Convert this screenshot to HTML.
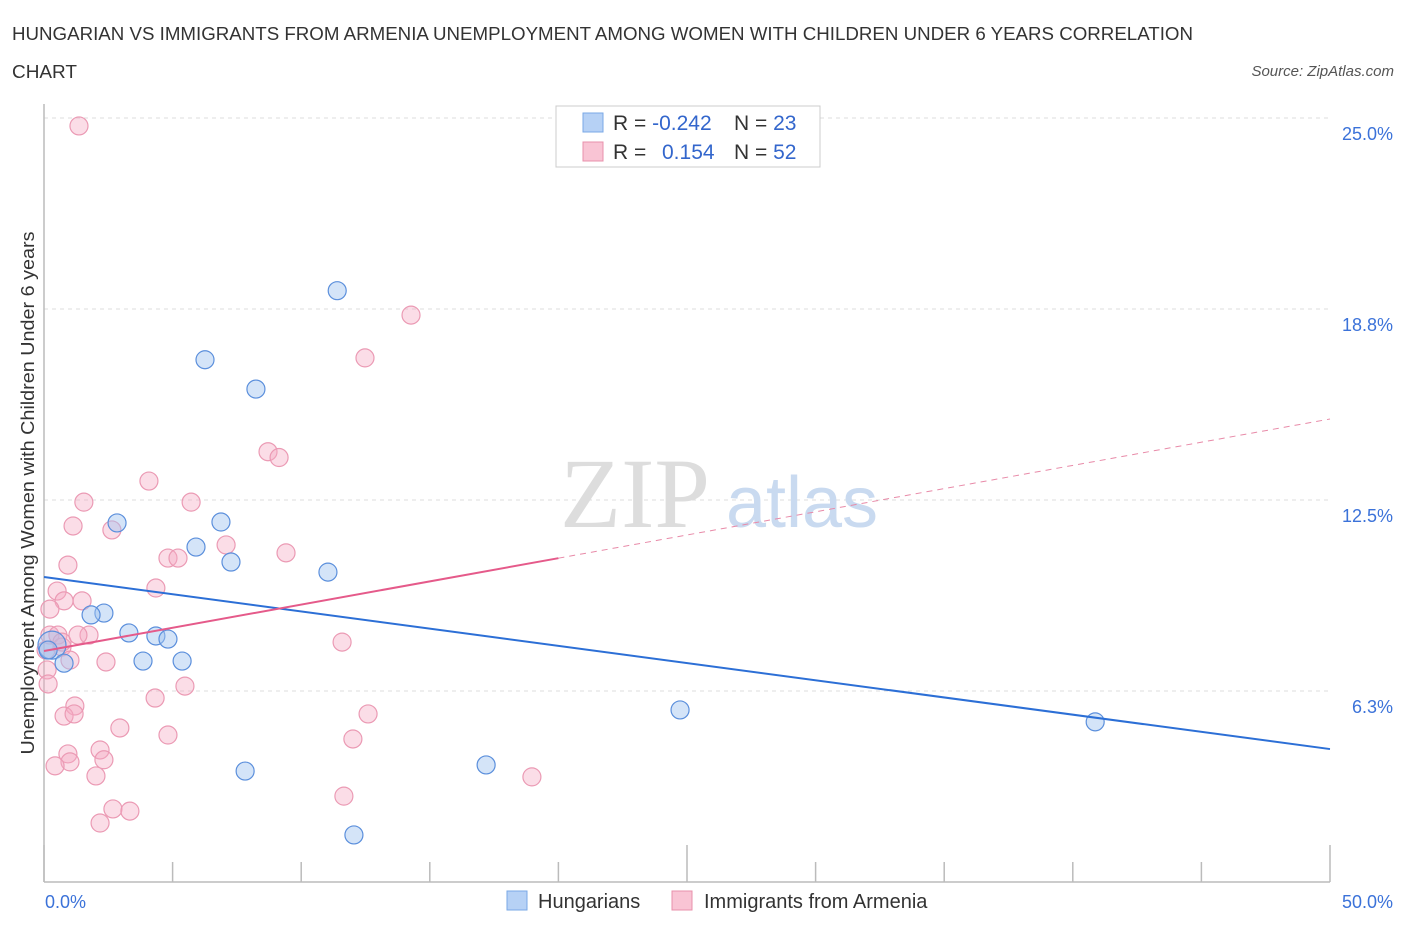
<!DOCTYPE html>
<html><head><meta charset="utf-8"><style>
body{margin:0;background:#fff;font-family:"Liberation Sans",sans-serif}
svg text{font-family:"Liberation Sans",sans-serif}
svg text.serif{font-family:"Liberation Serif",serif}
</style></head><body>
<svg id="chart" width="1406" height="930" xmlns="http://www.w3.org/2000/svg">
<text x="12" y="40" font-size="18" fill="#333" textLength="1181" lengthAdjust="spacingAndGlyphs">HUNGARIAN VS IMMIGRANTS FROM ARMENIA UNEMPLOYMENT AMONG WOMEN WITH CHILDREN UNDER 6 YEARS CORRELATION</text>
<text x="12" y="78" font-size="18" fill="#333" textLength="65" lengthAdjust="spacingAndGlyphs">CHART</text>
<text x="1394" y="76" font-size="15" fill="#555" font-style="italic" text-anchor="end">Source: ZipAtlas.com</text>
<text x="34" y="493" font-size="18" fill="#333" text-anchor="middle" textLength="523" lengthAdjust="spacingAndGlyphs" transform="rotate(-90 34 493)">Unemployment Among Women with Children Under 6 years</text>
<g id="grid"></g>
<text x="635" y="527" class="serif" font-size="100" fill="#ddd" text-anchor="middle">ZIP</text>
<text x="802" y="527" font-size="72" fill="#c9daf0" text-anchor="middle">atlas</text>
<g id="marks"></g>
<g>
<rect x="556" y="106" width="264" height="61" fill="#fff" stroke="#ccc"/>
<rect x="583" y="113" width="20" height="19" fill="#b6d1f5" stroke="#7aa8e6"/>
<rect x="583" y="142" width="20" height="19" fill="#f9c4d4" stroke="#e890ab"/>
<text x="613" y="130" font-size="21" fill="#333">R = <tspan fill="#3366cc">-0.242</tspan><tspan x="734">N = </tspan><tspan fill="#3366cc">23</tspan></text>
<text x="613" y="159" font-size="21" fill="#333">R = <tspan x="662" fill="#3366cc">0.154</tspan><tspan x="734">N = </tspan><tspan fill="#3366cc">52</tspan></text>
</g>
<g>
<rect x="507" y="891" width="20" height="19" fill="#b6d1f5" stroke="#7aa8e6"/>
<text x="538" y="908" font-size="20" fill="#333">Hungarians</text>
<rect x="672" y="891" width="20" height="19" fill="#f9c4d4" stroke="#e890ab"/>
<text x="704" y="908" font-size="20" fill="#333">Immigrants from Armenia</text>
</g>
</svg>
<script>
const yTicks=[6.25,12.5,18.75,25];
const yTickLabels=["6.3%","12.5%","18.8%","25.0%"];
const xTickLabels=["0.0%","50.0%"];
const hungX=[11.4,6.26,8.24,2.84,6.88,5.91,7.27,11.04,2.33,1.83,3.3,4.35,4.82,3.85,5.37,0.31,0.78,24.73,40.87,7.82,17.19,12.05,0.16];
const hungY=[19.35,17.09,16.13,11.75,11.78,10.96,10.47,10.14,8.8,8.74,8.15,8.05,7.95,7.23,7.23,7.75,7.16,5.63,5.24,3.63,3.83,1.54,7.59];
const armX=[1.36,14.27,12.48,8.71,9.14,4.08,1.55,5.72,1.13,2.64,4.82,5.21,7.08,9.41,0.93,4.35,0.51,1.48,0.78,0.23,1.75,11.59,0.23,0.54,0.7,0.08,2.41,1.01,0.12,5.48,0.16,4.32,1.2,0.78,1.17,12.6,2.95,4.82,12.01,2.18,0.93,1.01,2.33,0.43,2.02,18.97,2.68,3.34,2.18,11.66,0.7,1.32];
const armY=[24.74,18.55,17.15,14.08,13.89,13.12,12.43,12.43,11.65,11.52,10.6,10.6,11.03,10.77,10.37,9.62,9.52,9.2,9.2,8.93,8.08,7.85,8.08,8.08,7.69,7.59,7.2,7.26,6.94,6.41,6.48,6.02,5.76,5.43,5.5,5.5,5.04,4.81,4.68,4.32,4.19,3.93,4.0,3.8,3.47,3.44,2.39,2.32,1.93,2.81,7.85,8.08];
const hungTrend=[9.98,-0.1126];
const armTrend=[7.56,0.1518];
const armSolidEnd=20;
const X=v=>44+v*25.72, Y=v=>882-v*30.56;
const NS="http://www.w3.org/2000/svg";
const grid=document.getElementById('grid'), marks=document.getElementById('marks');
function mk(tag,attrs,parent){const e=document.createElementNS(NS,tag);for(const k in attrs)e.setAttribute(k,attrs[k]);parent.appendChild(e);return e;}
yTicks.forEach((t,i)=>{
 const l=mk('line',{x1:44,x2:1330,y1:Y(t),y2:Y(t),stroke:'#ddd','stroke-dasharray':'4,4'},grid);
 
 
 const tx=mk('text',{x:1393,y:Y(t)+22,'font-size':18,fill:'#3b72d9','text-anchor':'end'},grid);
 tx.textContent=yTickLabels[i];
 
 
});
const ax=mk('line',{x1:44,x2:44,y1:104,y2:882,stroke:'#bbb','stroke-width':1.5},grid);


const bx=mk('line',{x1:44,x2:1330,y1:882,y2:882,stroke:'#bbb','stroke-width':1.5},grid);


for(let i=0;i<=10;i++){
 const t=mk('line',{x1:X(i*5),x2:X(i*5),y1:882,y2:i%5==0?845:862,stroke:'#bbb','stroke-width':1.5},grid);
 
 
}
[[0,'start',45],[50,'end',1393]].forEach((d,i)=>{
 const tx=mk('text',{x:d[2],y:908,'font-size':18,fill:'#3b72d9','text-anchor':d[1]},grid);
 tx.textContent=xTickLabels[i];
 
 
});
armX.forEach((x,i)=>{
 const c=mk('circle',{cx:X(x),cy:Y(armY[i]),r:9,fill:'rgba(246,170,195,0.4)',stroke:'#eb9ab4','stroke-width':1.2},marks);
 
 
});
hungX.forEach((x,i)=>{
 const c=mk('circle',{cx:X(x),cy:Y(hungY[i]),r:i==15?14:9,fill:'rgba(160,195,240,0.45)',stroke:'#5b8fdc','stroke-width':1.2},marks);
 
 
});
const f=(t,x)=>t[0]+t[1]*x;
const hl=mk('line',{x1:X(0),y1:Y(f(hungTrend,0)),x2:X(50),y2:Y(f(hungTrend,50)),stroke:'#2c6fd6','stroke-width':2},marks);


const al=mk('line',{x1:X(0),y1:Y(f(armTrend,0)),x2:X(armSolidEnd),y2:Y(f(armTrend,armSolidEnd)),stroke:'#e55a8a','stroke-width':2},marks);


const ad=mk('line',{x1:X(armSolidEnd),y1:Y(f(armTrend,armSolidEnd)),x2:X(50),y2:Y(f(armTrend,50)),stroke:'#e88aa8','stroke-width':1,'stroke-dasharray':'6,5'},marks);


</script>
</body></html>
